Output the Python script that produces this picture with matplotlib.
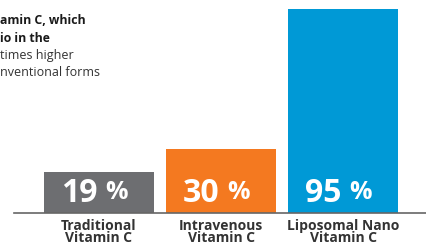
import matplotlib
matplotlib.use("Agg")
import matplotlib.pyplot as plt

categories = ["Traditional\nVitamin C", "Intravenous\nVitamin C", "Liposomal Nano\nVitamin C"]
values = [19, 30, 95]
colors = ["#6d6e71", "#f47920", "#0099d6"]
note_lines = ["amin C, which", "io in the", "times higher", "nventional forms"]
note_bold = [True, True, False, False]

W, H = 427, 245
fig = plt.figure(figsize=(W / 100, H / 100), dpi=100)
base_px = 32
scale = 204 / 95.0
ax = fig.add_axes([14 / W, base_px / H, (W - 14) / W, (H - base_px) / H])
x = list(range(len(values)))
ax.bar(x, values, width=0.9, color=colors)
ax.set_xlim(-85 / 122, (W - 99) / 122)
ax.set_ylim(0, (H - base_px) / scale)
for s in ["top", "right", "left"]:
    ax.spines[s].set_visible(False)
ax.spines["bottom"].set_color("#666666")
ax.spines["bottom"].set_linewidth(1.2)
ax.set_yticks([])
ax.set_xticks(x)
ax.set_xticklabels(categories, fontsize=10, fontweight="bold", color="#333333",
                   linespacing=0.9, family="Open Sans")
ax.tick_params(axis="x", length=0, pad=4)

for xi, v in zip(x, values):
    ax.text(xi - 0.01, 9.2, f"{v}", ha="right", va="center", color="white",
            fontsize=23, fontweight="bold", family="Open Sans")
    ax.text(xi + 0.05, 9.6, "%", ha="left", va="center", color="white",
            fontsize=18, fontweight="bold", family="Open Sans")

ys = [20, 38, 55, 72]
for t, yy, b in zip(note_lines, ys, note_bold):
    fig.text(0 / W, 1 - yy / H, t, ha="left", va="center",
             fontsize=8.8 if b else 9.0,
             fontweight="bold" if b else "normal", color="#1a1a1a" if b else "#333333",
             family="Open Sans")

fig.savefig("out.png", dpi=100)
